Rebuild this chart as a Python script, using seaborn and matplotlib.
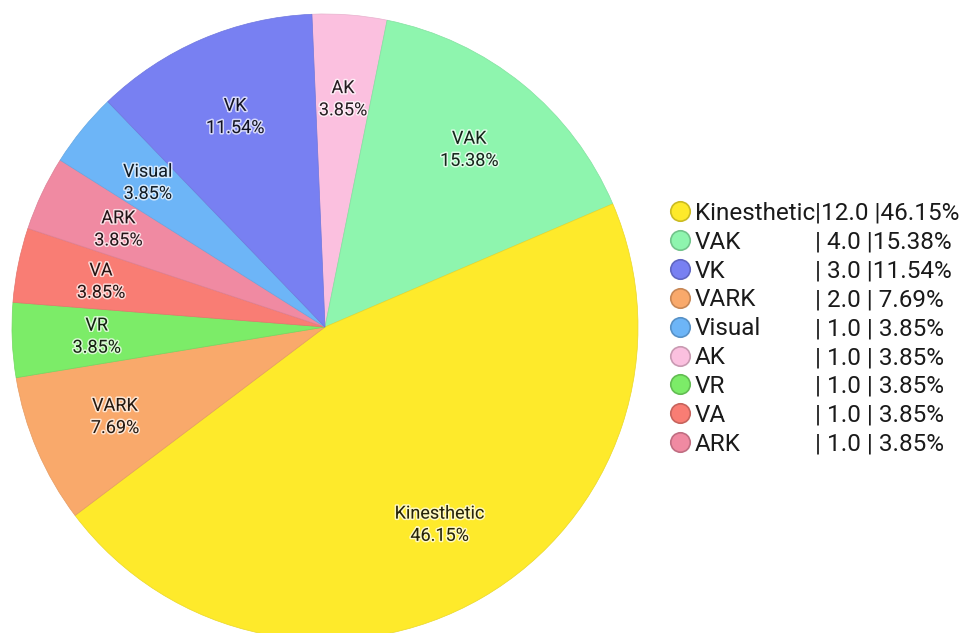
import matplotlib
matplotlib.use("Agg")
import matplotlib.pyplot as plt
import matplotlib.colors as mcolors
import matplotlib.patheffects as pe
from matplotlib.lines import Line2D
import numpy as np
import seaborn as sns

# dados (ordem das fatias no sentido horário a partir do topo)
estilos = ["AK", "VAK", "Kinesthetic", "VARK", "VR", "VA", "ARK", "Visual", "VK"]
contagens = [1.0, 4.0, 12.0, 2.0, 1.0, 1.0, 1.0, 1.0, 3.0]
cores = ["#fbc0df", "#8ef5ae", "#feea2b", "#f9a96b", "#7cec68",
         "#f97d74", "#f08aa2", "#6db5f7", "#7880f2"]

# ordem da legenda (maior para menor)
ordem_legenda = ["Kinesthetic", "VAK", "VK", "VARK", "Visual", "AK", "VR", "VA", "ARK"]

sns.set_theme(style="white")
plt.rcParams["font.family"] = ["Roboto", "DejaVu Sans"]

W, H = 963, 633
fig = plt.figure(figsize=(W / 100, H / 100), dpi=100)

cx, cy, r = 325, 327, 313
ax = fig.add_axes([(cx - r) / W, (H - cy - r) / H, 2 * r / W, 2 * r / H])

total = sum(contagens)
escuro = lambda c, f=0.5: tuple(v * f for v in mcolors.to_rgb(c))

wedges, _ = ax.pie(contagens, colors=cores, startangle=92.4, counterclock=False,
                   wedgeprops=dict(linewidth=0.5), radius=1)
for w, c in zip(wedges, cores):
    w.set_edgecolor(escuro(c, 0.92))

for w, nome, v, c in zip(wedges, estilos, contagens, cores):
    th = np.deg2rad((w.theta1 + w.theta2) / 2)
    d = 0.73
    ax.text(d * np.cos(th), d * np.sin(th), f"{nome}\n{v / total * 100:.2f}%",
            ha="center", va="center", fontsize=13, linespacing=1.3,
            color=escuro(c, 0.15),
            path_effects=[pe.withStroke(linewidth=2.2, foreground="white", alpha=0.7)])

ax.set_xlim(-1, 1)
ax.set_ylim(-1, 1)
ax.set_aspect("equal")
ax.axis("off")

# legenda
mapa = dict(zip(estilos, cores))
valores = dict(zip(estilos, contagens))
handles = [Line2D([], [], marker="o", linestyle="", markersize=14,
                  markerfacecolor=mapa[n], markeredgecolor=escuro(mapa[n], 0.8),
                  markeredgewidth=1.2) for n in ordem_legenda]
leg = fig.legend(handles, ordem_legenda, loc="upper left",
                 bbox_to_anchor=(668 / W, 1 - 202 / H), frameon=False,
                 fontsize=17.5, handletextpad=0.1, handlelength=1.0,
                 labelspacing=0.24, borderpad=0, borderaxespad=0)
for t in leg.get_texts():
    t.set_color("#1a1a1a")

fig.canvas.draw()
for t, n in zip(leg.get_texts(), ordem_legenda):
    bb = t.get_window_extent()
    yc = (bb.y0 + bb.y1) / 2
    v = valores[n]
    p = v / total * 100
    fig.text(815 / W, yc / H, f"|{v:>4.1f} |{p:>5.2f}%", ha="left", va="center",
             fontsize=17.5, color="#1a1a1a")

plt.savefig("out.png", dpi=100)
